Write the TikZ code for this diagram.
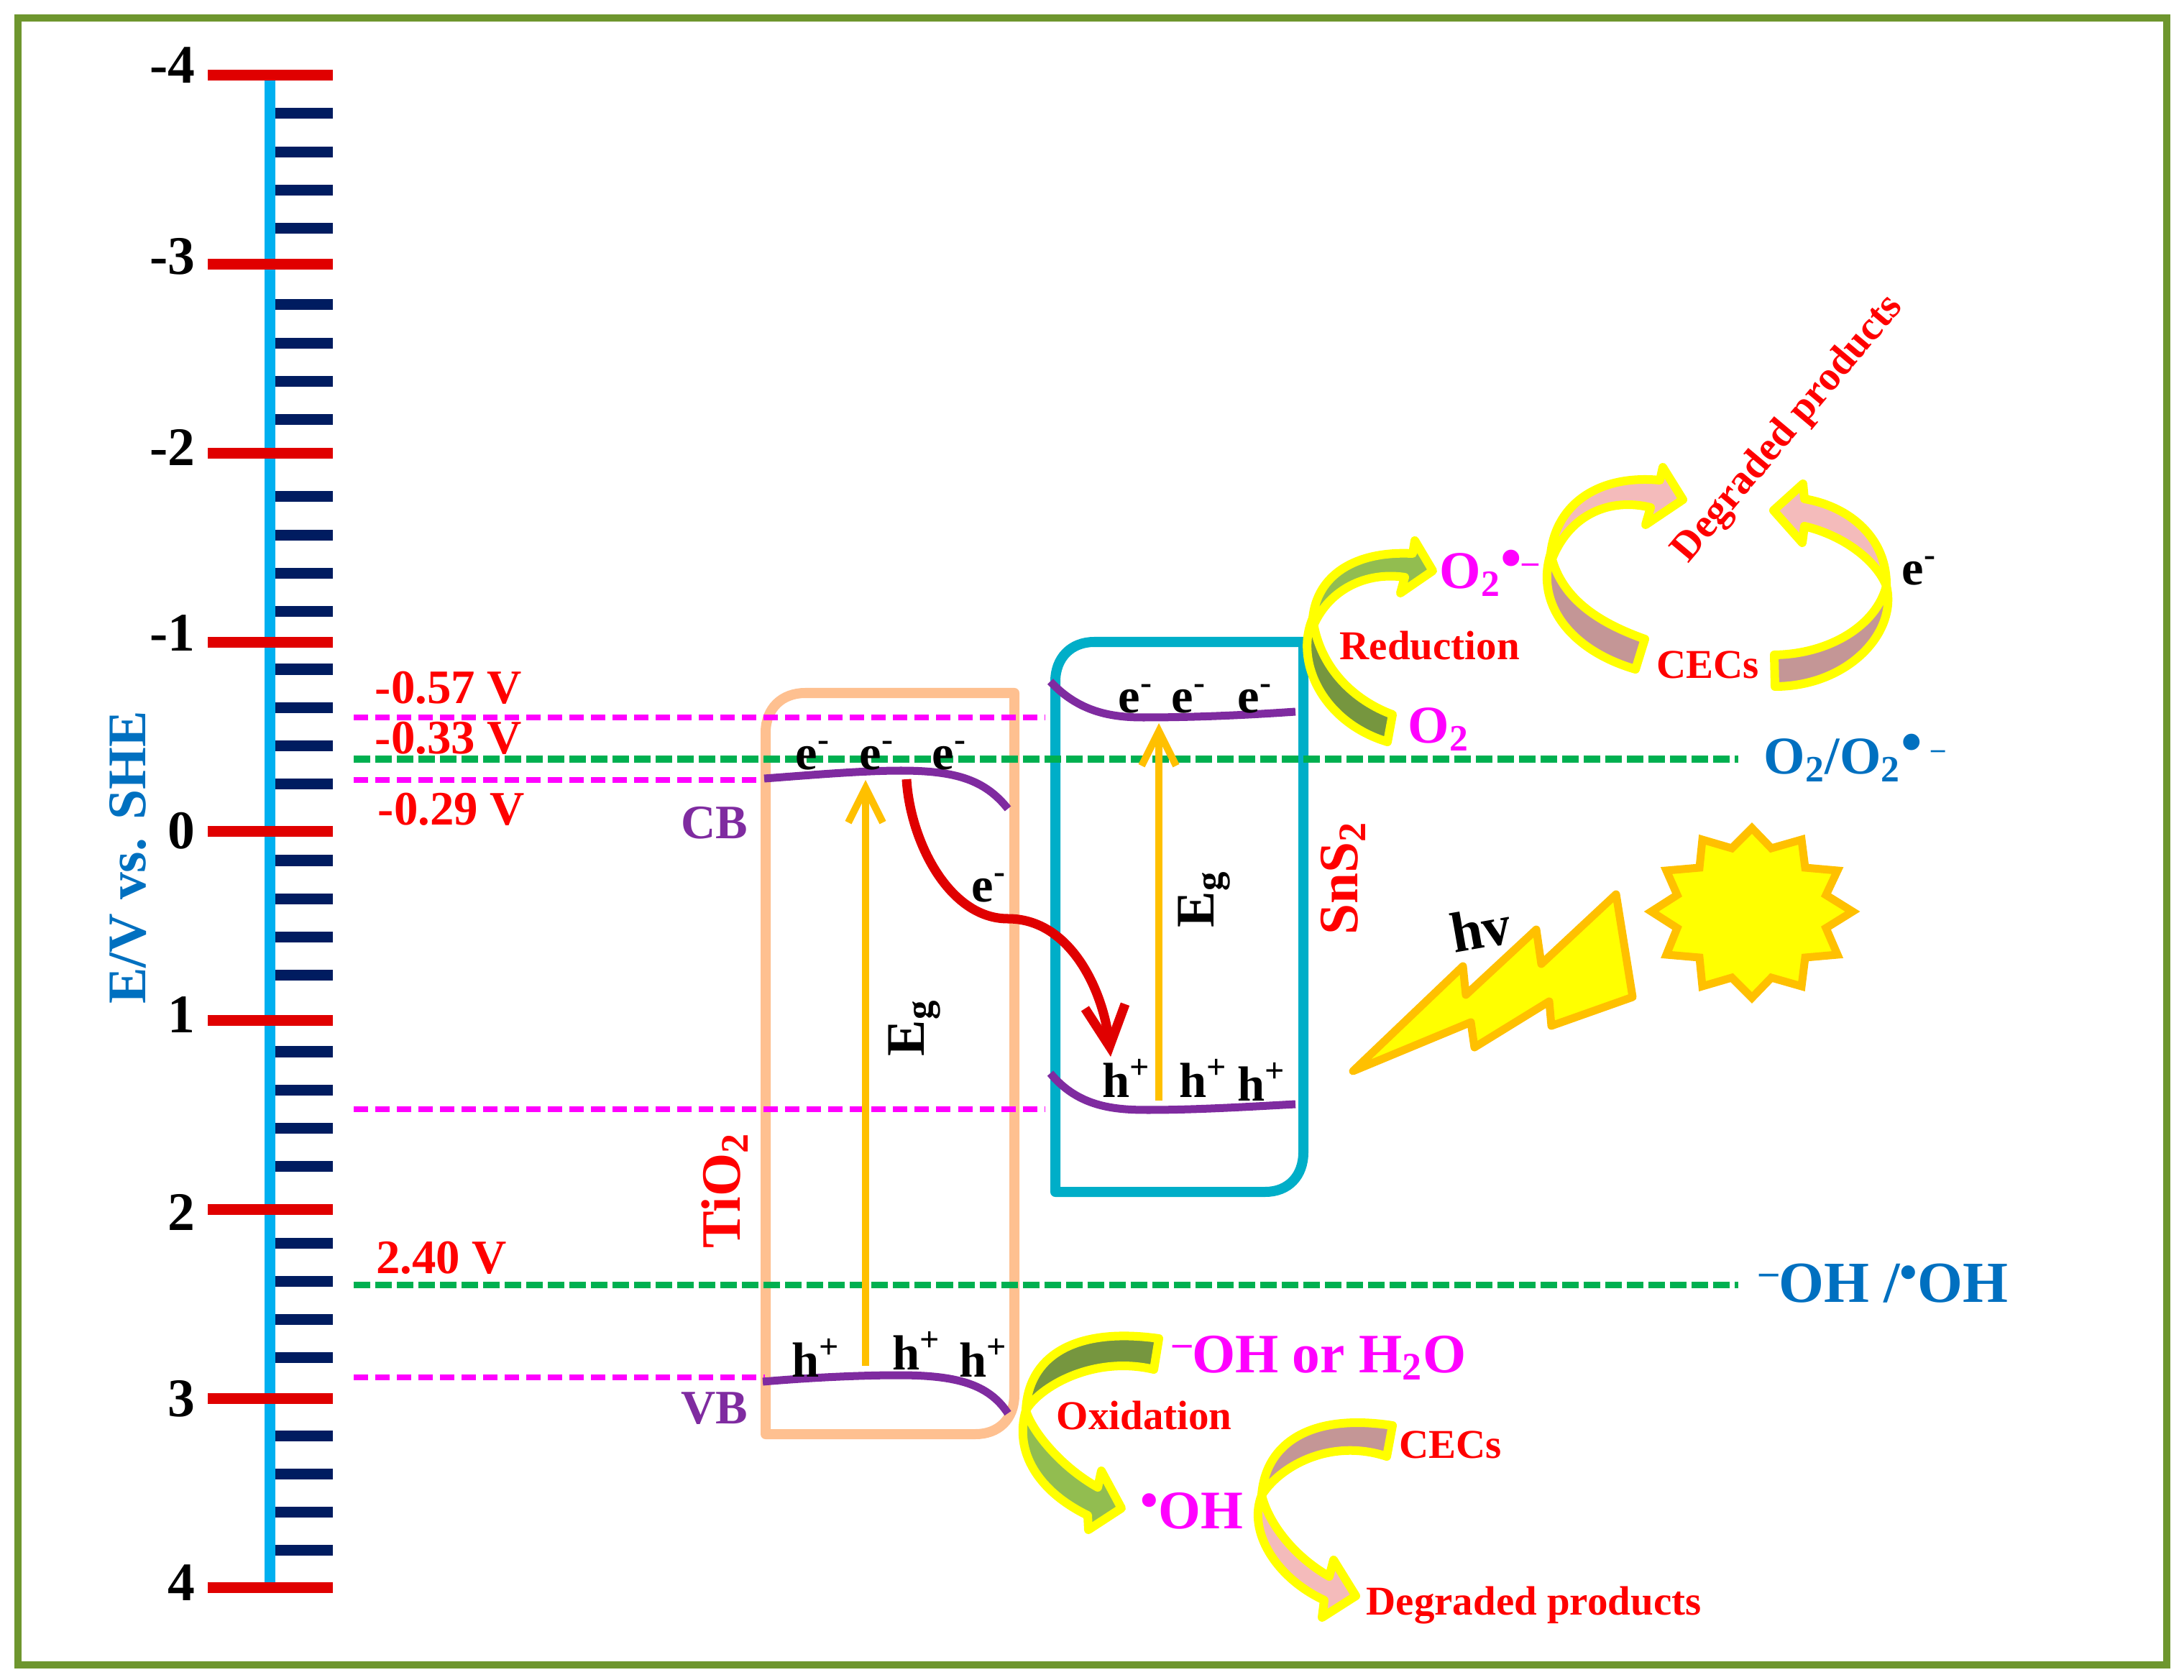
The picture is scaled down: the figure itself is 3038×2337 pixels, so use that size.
\documentclass[tikz,border=0pt]{standalone}
\usepackage{fontspec}
\setmainfont{Liberation Serif}
\usepackage{tikz}
\usetikzlibrary{arrows.meta}
\definecolor{framegreen}{RGB}{110,150,46}
\definecolor{axisblue}{RGB}{0,176,240}
\definecolor{tickred}{RGB}{224,0,0}
\definecolor{ticknavy}{RGB}{0,28,96}
\definecolor{labelblue}{RGB}{0,112,192}
\definecolor{dashgreen}{RGB}{0,176,80}
\definecolor{peach}{RGB}{254,192,144}
\definecolor{teal}{RGB}{0,174,200}
\definecolor{bandpurple}{RGB}{127,43,160}
\definecolor{amber}{RGB}{255,192,0}
\definecolor{leaf}{RGB}{146,189,80}
\definecolor{moss}{RGB}{118,150,63}
\definecolor{blush}{RGB}{244,187,187}
\definecolor{mauve}{RGB}{196,150,150}
\definecolor{fullred}{RGB}{255,0,0}
\definecolor{fullpink}{RGB}{255,0,255}
\definecolor{fullyellow}{RGB}{255,255,0}
\newcommand{\sz}[1]{\fontsize{#1}{#1}\selectfont}
\tikzstyle{scalenum} = [anchor=base east, inner sep=0pt, font=\sz{21.5}\bfseries]
\tikzstyle{volt} = [anchor=center, inner sep=0pt, text=fullred, font=\sz{19}\bfseries]
\tikzstyle{band} = [anchor=center, inner sep=0pt, text=bandpurple, font=\sz{19}\bfseries]
\tikzstyle{carrier} = [anchor=center, inner sep=0pt, font=\sz{19.5}\bfseries]
\tikzstyle{gap} = [anchor=center, inner sep=0pt, rotate=90, font=\sz{21.5}\bfseries]
\tikzstyle{material} = [anchor=center, inner sep=0pt, rotate=90, text=fullred, font=\sz{22}\bfseries]
\tikzstyle{species} = [anchor=base west, inner sep=0pt, text=fullpink, font=\sz{21}\bfseries]
\tikzstyle{couple} = [anchor=base west, inner sep=0pt, text=labelblue, font=\sz{21}\bfseries]
\tikzstyle{process} = [anchor=base west, inner sep=0pt, text=fullred, font=\sz{16.2}\bfseries]
\tikzstyle{majortick} = [draw=tickred, line width=.15cm]
\tikzstyle{minortick} = [draw=ticknavy, line width=.15cm]
\tikzstyle{pinkdash} = [draw=fullpink, line width=.08cm, dash pattern=on .2cm off .1cm]
\tikzstyle{greendash} = [draw=dashgreen, line width=.09cm, dash pattern=on .23cm off .07cm]
\tikzstyle{bandedge} = [draw=bandpurple, line width=.11cm]
\tikzstyle{gaparrow} = [draw=amber, line width=.1cm, -{Straight Barb[length=.48cm,width=.48cm]}]
\tikzstyle{bentarm} = [draw=fullyellow, line width=.12cm, line join=round]
\tikzstyle{flash} = [draw=amber, fill=fullyellow, line width=.11cm]
\begin{document}
\begin{tikzpicture}[x=.01cm, y=-.01cm]
  \useasboundingbox (0,0) rectangle (3038,2337);
  \draw [framegreen, line width=.1cm] (25,25) rectangle (3014,2316);
  \draw [axisblue, line width=.15cm] (375.5,104) -- (375.5,2208);
  \foreach \s in {158,424,691,931,1197,1463,1729,1997}
    \foreach \t in {0,...,3}
      \draw [minortick] (383,\s+53.2*\t) -- (463,\s+53.2*\t);
  \foreach \t in {0,...,8}
    \draw [majortick] (289,104.5+263*\t) -- (463,104.5+263*\t);
  \node (n1) [scalenum] at (272,116) {-4};
  \node (n2) [scalenum] at (272,382) {-3};
  \node (n3) [scalenum] at (272,648) {-2};
  \node (n4) [scalenum] at (272,906) {-1};
  \node (n5) [scalenum] at (272,1180) {0};
  \node (n6) [scalenum] at (272,1436) {1};
  \node (n7) [scalenum] at (272,1711) {2};
  \node (n8) [scalenum] at (272,1970) {3};
  \node (n9) [scalenum] at (272,2226) {4};
  \node (ev) [inner sep=0pt, rotate=90, text=labelblue, font=\sz{21.5}\bfseries] at (178,1193) {E/V vs. SHE};
  \draw [peach, line width=.14cm, line join=round] (1065,1995) -- (1065,1019) .. controls (1065,985) and (1088,964) .. (1120,964) -- (1411,964) -- (1411,1940) .. controls (1411,1975) and (1388,1995) .. (1357,1995) -- cycle;
  \draw [teal, line width=.14cm, line join=round] (1468,1658) -- (1468,948) .. controls (1468,915) and (1490,893) .. (1522,893) -- (1813,893) -- (1813,1603) .. controls (1813,1636) and (1792,1658) .. (1760,1658) -- cycle;
  \draw [pinkdash] (492,998) -- (1453,998);
  \draw [pinkdash] (492,1085) -- (1053,1085);
  \draw [pinkdash] (492,1543) -- (1453,1543);
  \draw [pinkdash] (492,1916) -- (1064,1916);
  \draw [greendash] (492,1056) -- (2418,1056);
  \draw [greendash] (492,1787) -- (2418,1787);
  \node (v57) [volt] at (624,957) {-0.57 V};
  \node (v33) [volt] at (624,1027) {-0.33 V};
  \node (v29) [volt] at (628,1126) {-0.29 V};
  \node (v240) [volt] at (614,1750) {2.40 V};
  \node (cb) [band] at (994,1145) {CB};
  \node (vb) [band] at (994,1959) {VB};
  \node (tio) [material] at (1008,1656) {TiO\textsubscript{2}};
  \node (sns) [material] at (1868,1222) {SnS\textsubscript{2}};
  \draw [bandedge] (1063,1083) .. controls (1130,1078) and (1200,1072) .. (1253,1072) .. controls (1330,1072) and (1370,1085) .. (1402,1125);
  \draw [bandedge] (1461,948) .. controls (1500,990) and (1545,998) .. (1590,998) .. controls (1660,998) and (1730,995) .. (1802,990);
  \draw [bandedge] (1461,1493) .. controls (1500,1540) and (1550,1544) .. (1597,1544) .. controls (1660,1544) and (1730,1540) .. (1802,1536);
  \draw [bandedge] (1061,1922) .. controls (1130,1916) and (1200,1913) .. (1250,1913) .. controls (1330,1913) and (1375,1925) .. (1402,1966);
  \coordinate (ti1) at (1204,1900);
  \coordinate (ti2) at (1204,1085);
  \coordinate (sn1) at (1612,1531);
  \coordinate (sn2) at (1612,1006);
  \draw [gaparrow] (ti1) -- (ti2);
  \draw [gaparrow] (sn1) -- (sn2);
  \coordinate (jump1) at (1261,1084);
  \coordinate (jump2) at (1402,1278);
  \coordinate (jump3) at (1545,1470);
  \draw [draw=tickred, line width=.13cm, -{Straight Barb[length=.56cm,width=.56cm]}] (jump1) .. controls (1266,1170) and (1320,1278) .. (jump2) .. controls (1490,1278) and (1535,1380) .. (jump3);
  \node (eg1) [gap] at (1272,1430) {E\textsubscript{g}};
  \node (eg2) [gap] at (1675,1251) {E\textsubscript{g}};
  \node (e1) [carrier] at (1131,1051) {e\textsuperscript{-}};
  \node (e2) [carrier] at (1220,1051) {e\textsuperscript{-}};
  \node (e3) [carrier] at (1321,1051) {e\textsuperscript{-}};
  \node (e4) [carrier] at (1580,972) {e\textsuperscript{-}};
  \node (e5) [carrier] at (1654,972) {e\textsuperscript{-}};
  \node (e6) [carrier] at (1746,972) {e\textsuperscript{-}};
  \node (e7) [carrier] at (1376,1235) {e\textsuperscript{-}};
  \node (e8) [carrier] at (2670,794) {e\textsuperscript{-}};
  \node (h1) [carrier] at (1567,1500) {h\textsuperscript{+}};
  \node (h2) [carrier] at (1674,1500) {h\textsuperscript{+}};
  \node (h3) [carrier] at (1755,1505) {h\textsuperscript{+}};
  \node (h4) [carrier] at (1135,1889) {h\textsuperscript{+}};
  \node (h5) [carrier] at (1275,1879) {h\textsuperscript{+}};
  \node (h6) [carrier] at (1368,1889) {h\textsuperscript{+}};
  \draw [bentarm, fill=leaf] (1826,860) .. controls (1832,800) and (1885,766) .. (1965,770) -- (1968,752) -- (1993,794) -- (1948,825) -- (1954,803) .. controls (1900,795) and (1850,820) .. (1828,868) -- cycle;
  \draw [bentarm, fill=moss] (1826,860) .. controls (1800,920) and (1840,1005) .. (1930,1032) -- (1937,994) .. controls (1885,975) and (1835,930) .. (1826,860) -- cycle;
  \draw [bentarm, fill=blush] (2157,770) .. controls (2165,700) and (2225,660) .. (2309,668) -- (2313,650) -- (2341,695) -- (2289,730) -- (2296,706) .. controls (2240,692) and (2185,715) .. (2160,775) -- cycle;
  \draw [bentarm, fill=mauve] (2157,770) .. controls (2135,840) and (2185,905) .. (2275,931) -- (2288,889) .. controls (2220,865) and (2170,830) .. (2157,770) -- cycle;
  \draw [bentarm, fill=blush] (2624,815) .. controls (2625,750) and (2575,705) .. (2510,694) -- (2508,673) -- (2467,710) -- (2507,755) -- (2510,732) .. controls (2565,745) and (2610,780) .. (2624,815) -- cycle;
  \draw [bentarm, fill=mauve] (2624,815) .. controls (2640,880) and (2570,955) .. (2469,955) -- (2468,911) .. controls (2545,910) and (2610,870) .. (2624,815) -- cycle;
  \draw [bentarm, fill=moss] (1427,1962) .. controls (1430,1890) and (1490,1845) .. (1612,1862) -- (1605,1905) .. controls (1520,1885) and (1445,1930) .. (1427,1962) -- cycle;
  \draw [bentarm, fill=leaf] (1427,1962) .. controls (1410,2020) and (1445,2075) .. (1513,2108) -- (1514,2128) -- (1560,2098) -- (1532,2046) -- (1527,2069) .. controls (1475,2040) and (1435,1990) .. (1427,1962) -- cycle;
  \draw [bentarm, fill=mauve] (1755,2080) .. controls (1760,2010) and (1820,1965) .. (1937,1983) -- (1929,2026) .. controls (1850,2000) and (1780,2040) .. (1755,2080) -- cycle;
  \draw [bentarm, fill=blush] (1755,2080) .. controls (1735,2130) and (1775,2195) .. (1842,2226) -- (1839,2250) -- (1886,2220) -- (1855,2170) -- (1849,2193) .. controls (1800,2165) and (1765,2120) .. (1755,2080) -- cycle;
  \node (o2rad) [species] at (2002,819) {O\textsubscript{2}\raisebox{.2em}{\sz{24}\textbullet}\raisebox{.3em}{\sz{13}--}};
  \node (o2) [species] at (1958,1034) {O\textsubscript{2}};
  \node (redu) [process] at (1863,918) {Reduction};
  \node (cec1) [process] at (2304,944) {CECs};
  \node (deg1) [anchor=center, inner sep=0pt, rotate=50, text=fullred, font=\sz{16.2}\bfseries] at (2488,597) {Degraded products};
  \node (o2pair) [couple] at (2453,1077) {O\textsubscript{2}/O\textsubscript{2}\raisebox{.22em}{\sz{24}\textbullet}\,\raisebox{.3em}{\sz{11}--}};
  \node (ohpair) [couple, font=\sz{23}\bfseries] at (2447,1811) {\raisebox{.3em}{\sz{15}--}OH /\raisebox{.22em}{\sz{20}\textbullet}OH};
  \node (ohwater) [species, font=\sz{22}\bfseries] at (1631,1909) {\raisebox{.3em}{\sz{15}--}OH or H\textsubscript{2}O};
  \node (oxid) [process] at (1469,1988) {Oxidation};
  \node (ohrad) [species, font=\sz{21.5}\bfseries] at (1586,2126) {\raisebox{.2em}{\sz{20}\textbullet}OH};
  \node (cec2) [process] at (1946,2028) {CECs};
  \node (deg2) [process] at (1900,2246) {Degraded products};
  \draw [flash, line join=round] (1882,1490) -- (2035,1344) -- (2039,1384) -- (2137,1293) -- (2144,1341) -- (2248,1244) -- (2271,1387) -- (2158,1427) -- (2155,1393) -- (2051,1457) -- (2046,1422) -- cycle;
  \node (hv) [inner sep=0pt, rotate=10, font=\sz{22.5}\bfseries] at (2060,1292) {hv};
  \draw [flash, line join=miter] (2437,1152) -- (2464,1180) -- (2506,1168) -- (2511,1207) -- (2556,1211) -- (2540,1245) -- (2577,1268) -- (2540,1291) -- (2556,1328) -- (2511,1332) -- (2506,1372) -- (2464,1360) -- (2437,1388) -- (2409,1360) -- (2368,1372) -- (2364,1332) -- (2318,1328) -- (2333,1291) -- (2297,1268) -- (2333,1245) -- (2318,1211) -- (2364,1207) -- (2368,1168) -- (2409,1180) -- cycle;
\end{tikzpicture}
\end{document}
